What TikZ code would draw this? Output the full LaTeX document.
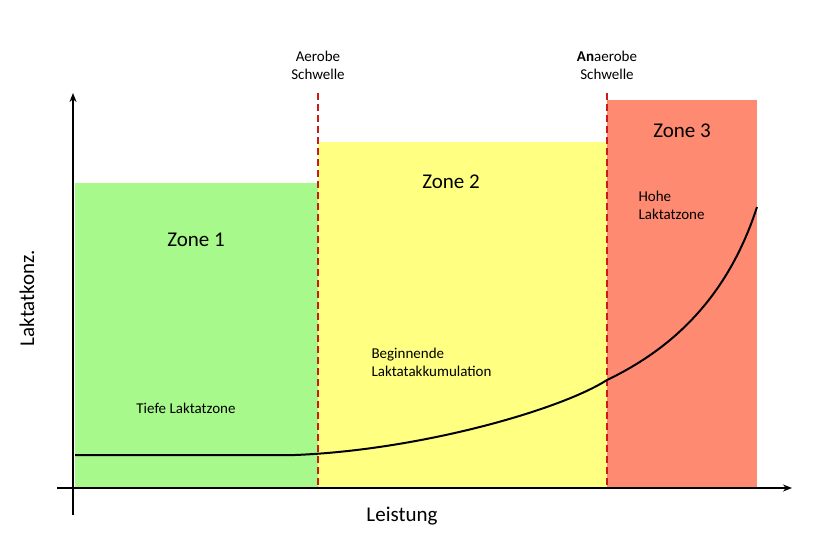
\documentclass[tikz,border=0pt]{standalone}
\usepackage{fontspec}
\setmainfont{Carlito}
\usetikzlibrary{arrows.meta}
\definecolor{zg}{HTML}{A8F98C}
\definecolor{zy}{HTML}{FFFF82}
\definecolor{zr}{HTML}{FF8A72}
\definecolor{dr}{HTML}{CC1A1A}
\begin{document}
\begin{tikzpicture}[x=1pt,y=-1pt,
  lbl/.style={font=\fontsize{15}{18}\selectfont,align=center},
  big/.style={font=\fontsize{21}{24}\selectfont},
  thr/.style={dr,line width=2.2pt,dash pattern=on 7pt off 4pt},
  ax/.style={line width=1.6pt,-{Stealth[length=9pt,width=7pt]}}]
\useasboundingbox (0,0) rectangle (830,542);
\fill[zg] (75,183) rectangle (318,488);
\fill[zy] (318,142) rectangle (607,488);
\fill[zr] (607,100) rectangle (757,488);
\coordinate (t1) at (318,93); \coordinate (b1) at (318,488);
\coordinate (t2) at (607,93); \coordinate (b2) at (607,488);
\draw[thr] (t1) -- (b1);
\draw[thr] (t2) -- (b2);
\coordinate (yo) at (73,515); \coordinate (yt) at (73,93);
\coordinate (xo) at (57,488); \coordinate (xt) at (792,488);
\draw[ax] (yo) -- (yt);
\draw[ax] (xo) -- (xt);
\draw[line width=2pt] (75,455) -- (295,455) .. controls (420,450) and (560,410) .. (607,380)
  .. controls (680,345) and (730,290) .. (757,207);
\node[lbl] (a) at (318,65) {Aerobe\\Schwelle};
\node[lbl] (an) at (607,65) {\textbf{An}aerobe\\Schwelle};
\node[big] (z1) at (196,240) {Zone 1};
\node[big] (z2) at (451,182) {Zone 2};
\node[big] (z3) at (682,131) {Zone 3};
\node[lbl] (t) at (186,408) {Tiefe Laktatzone};
\node[lbl,align=left,anchor=west] (b) at (368,362) {Beginnende\\Laktatakkumulation};
\node[lbl,align=left,anchor=west] (h) at (635,205) {Hohe\\Laktatzone};
\node[big,rotate=90] (yl) at (27,298) {Laktatkonz.};
\node[big] (xl) at (402,516) {Leistung};
\end{tikzpicture}
\end{document}
